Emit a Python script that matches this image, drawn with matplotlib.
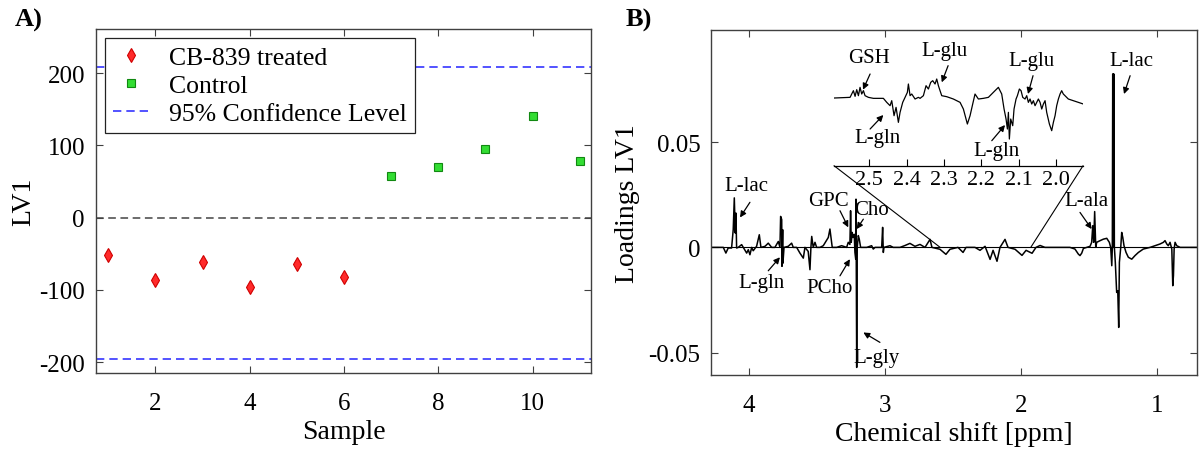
import matplotlib.pyplot as plt
from matplotlib.patches import ConnectionPatch

plt.rcParams['font.family'] = ['Liberation Serif', 'DejaVu Serif']
plt.rcParams['axes.unicode_minus'] = False

# ---- panel A data: PLS-DA scores ----
treated_x = [1, 2, 3, 4, 5, 6]
treated_lv1 = [-51.5, -86, -62, -96, -64, -82]
control_x = [7, 8, 9, 10, 11]
control_lv1 = [57, 70, 95, 140, 78]
cl_upper = 209
cl_lower = -195.5

# ---- panel B data: loadings spectrum (ppm, loading) ----
ppm = [4.277, 4.191, 4.172, 4.155, 4.130, 4.118, 4.110, 4.103, 4.098, 4.093,
       4.081, 4.056, 4.044, 4.019, 4.007, 3.995, 3.982, 3.971, 3.946, 3.926,
       3.914, 3.884, 3.860, 3.835, 3.811, 3.786, 3.774, 3.769, 3.761, 3.759,
       3.754, 3.752, 3.744, 3.713, 3.688, 3.676, 3.651, 3.627, 3.602, 3.590,
       3.566, 3.553, 3.546, 3.540, 3.529, 3.516, 3.504, 3.479, 3.455, 3.418,
       3.406, 3.398, 3.389, 3.356, 3.320, 3.283, 3.271, 3.259, 3.254, 3.249,
       3.242, 3.236, 3.227, 3.222, 3.216, 3.214, 3.209, 3.205, 3.197, 3.190,
       3.180, 3.135, 3.099, 3.087, 3.074, 3.025, 3.018, 3.013, 3.008, 2.964,
       2.940, 2.890, 2.853, 2.817, 2.780, 2.743, 2.706, 2.669, 2.655, 2.596,
       2.552, 2.522, 2.463, 2.426, 2.404, 2.338, 2.301, 2.264, 2.227, 2.205,
       2.176, 2.154, 2.117, 2.095, 2.043, 1.992, 1.962, 1.918, 1.889, 1.859,
       1.823, 1.786, 1.639, 1.602, 1.577, 1.565, 1.552, 1.540, 1.515, 1.491,
       1.479, 1.471, 1.464, 1.457, 1.449, 1.442, 1.417, 1.393, 1.368, 1.349,
       1.339, 1.331, 1.327, 1.324, 1.322, 1.320, 1.317, 1.315, 1.312, 1.305,
       1.295, 1.287, 1.280, 1.275, 1.265, 1.258, 1.250, 1.241, 1.226, 1.209,
       1.184, 1.160, 1.135, 1.099, 1.049, 1.012, 0.976, 0.951, 0.939, 0.926,
       0.915, 0.902, 0.889, 0.882, 0.877, 0.872, 0.865, 0.853, 0.828, 0.688]
loading = [0, 0, -0.0027, -0.0003, -0.0003, 0.0084, 0.0235, 0.0068, 0.0163, -0.0003,
           0, 0.0013, 0, -0.0027, -0.0011, -0.0035, 0, -0.0016, 0.0005, 0.0060,
           0, 0.0005, 0.0020, 0, 0, 0.0028, 0, 0.0147, 0.0132, -0.0090,
           0.0084, -0.0075, 0, 0.0005, 0.0020, 0, 0, -0.0027, -0.0051, 0,
           -0.0019, -0.0106, 0, 0.0052, 0, 0.0024, 0, 0, 0.0008, 0.0047,
           0.0087, 0.0047, 0, 0, 0.0008, 0, 0.0024, 0.0014, 0.0174, 0.0024,
           0.0071, 0.0047, 0.0062, -0.0024, -0.0056, 0.0229, -0.0570, 0, 0.0056, 0.0039,
           0, 0, 0.0008, -0.0008, 0, 0, 0.0095, -0.0024, 0, 0.0008,
           0, 0, 0.0009, 0.0019, 0.0005, 0.0014, 0, 0.0038, 0, -0.0009,
           -0.0033, -0.0009, 0, -0.0024, 0, 0, -0.0014, 0.0005, -0.0057, -0.0014,
           -0.0066, 0, 0.0038, 0, -0.0009, -0.0038, -0.0014, -0.0028, 0, 0.0009,
           0, 0, 0, -0.0008, -0.0032, -0.0039, -0.0027, -0.0005, 0, 0.0005,
           0.0024, 0.0103, 0.0024, 0.0170, 0, 0.0024, 0.0032, 0.0039, 0.0043, 0.0024,
           0, -0.0087, 0, 0.0823, 0, 0.0823, 0, 0.0823, 0, -0.0071,
           -0.0214, -0.0206, -0.0380, -0.0071, 0, 0.0071, 0.0047, 0.0008, -0.0024, -0.0047,
           -0.0056, -0.0039, -0.0024, -0.0008, 0, 0.0008, 0.0016, 0.0024, 0.0032, 0.0016,
           0.0008, 0.0024, -0.0008, -0.0182, -0.0134, -0.0008, 0.0024, 0.0008, 0, 0]

# ---- inset: 2.6 - 1.93 ppm enlarged (relative units) ----
inset_ppm = [2.5945, 2.5516, 2.5472, 2.5427, 2.5382, 2.5338, 2.5293, 2.5249, 2.5204, 2.5159,
             2.5115, 2.5025, 2.4891, 2.4624, 2.4534, 2.4445, 2.4400, 2.4338, 2.4284, 2.4222,
             2.4177, 2.4106, 2.4043, 2.3981, 2.3954, 2.3909, 2.3864, 2.3775, 2.3686, 2.3641,
             2.3552, 2.3481, 2.3418, 2.3356, 2.3302, 2.3240, 2.3195, 2.3150, 2.3106, 2.3061,
             2.2927, 2.2749, 2.2570, 2.2481, 2.2374, 2.2302, 2.2231, 2.2169, 2.2079, 2.1945,
             2.1811, 2.1722, 2.1633, 2.1543, 2.1499, 2.1454, 2.1391, 2.1338, 2.1302, 2.1275,
             2.1249, 2.1213, 2.1159, 2.1124, 2.1070, 2.1034, 2.0981, 2.0936, 2.0891, 2.0829,
             2.0784, 2.0740, 2.0695, 2.0650, 2.0606, 2.0561, 2.0516, 2.0472, 2.0427, 2.0382,
             2.0338, 2.0293, 2.0249, 2.0177, 2.0115, 2.0070, 2.0025, 1.9981, 1.9936, 1.9891,
             1.9848, 1.9804, 1.9759, 1.9670, 1.9536, 1.9402, 1.9268]
inset_val = [0, 0.02, 0.12, 0.22, 0.05, 0.25, 0.07, 0.32, 0.12, 0.22,
             0.07, 0.02, -0.01, -0.01, -0.13, -0.23, -0.08, -0.53, -0.28, -0.73,
             -0.43, -0.13, 0.02, 0.17, 0.42, 0.07, 0.12, -0.03, 0.02, -0.01,
             0.07, 0.37, 0.27, 0.47, 0.52, 0.42, 0.57, 0.37, 0.22, 0.07,
             0.04, -0.03, -0.13, -0.33, -0.78, -0.53, -0.18, 0.12, -0.03, -0.01,
             0.02, 0.12, 0.22, 0.32, 0.22, 0.12, -0.33, -0.63, -0.93, -0.43,
             -1.23, -0.63, -0.83, -0.33, -0.03, 0.07, 0.27, 0.22, 0.02, -0.03,
             0.07, -0.13, -0.03, -0.18, -0.08, -0.23, -0.13, -0.03, -0.13, -0.33,
             -0.18, -0.08, -0.43, -0.78, -0.98, -0.73, -0.53, -0.23, -0.03, 0.12,
             0.22, 0.12, 0.07, -0.03, -0.08, -0.13, -0.18]

# labels: (text, text pos, arrow tail, arrow head)
main_labels = [
    ('L-lac', (4.019, 0.0292), (3.995, 0.0214), (4.068, 0.0142)),
    ('L-gln', (3.909, -0.0166), (3.860, -0.0111), (3.774, -0.0047)),
    ('GPC', (3.418, 0.0221), (3.332, 0.0174), (3.271, 0.0095)),
    ('Cho', (3.099, 0.0182), (3.160, 0.0134), (3.209, 0.0087)),
    ('PCho', (3.406, -0.0190), (3.332, -0.0135), (3.259, -0.0056)),
    ('L-gly', (3.062, -0.0522), (3.038, -0.0451), (3.160, -0.0404)),
    ('L-ala', (1.515, 0.0221), (1.565, 0.0166), (1.479, 0.0087)),
    ('L-lac', (1.184, 0.0886), (1.196, 0.0815), (1.241, 0.0728)),
]
inset_labels = [
    ('GSH', (2.5008, 1.23), (2.498, 0.72), (2.517, 0.25)),
    ('L-glu', (2.300, 1.42), (2.289, 0.97), (2.306, 0.47)),
    ('L-gln', (2.479, -1.17), (2.498, -0.93), (2.4625, -0.51)),
    ('L-glu', (2.065, 1.12), (2.0615, 0.67), (2.075, 0.12)),
    ('L-gln', (2.159, -1.58), (2.172, -1.28), (2.1365, -0.81)),
]

frame_color = '#404040'


def style_axes(ax):
    for s in ax.spines.values():
        s.set_color(frame_color)
        s.set_linewidth(1.0)
    ax.tick_params(direction='in', top=True, right=True, length=5,
                   width=0.8, color=frame_color, labelsize=18, pad=8)
    ax.tick_params(axis='x', pad=14)


def put_labels(ax, labels, fs):
    for txt, pos, tail, head in labels:
        ax.text(pos[0], pos[1], txt, ha='center', va='center', fontsize=fs)
        ax.annotate('', xy=head, xytext=tail,
                    arrowprops=dict(arrowstyle='-|>', color='black', lw=0.9,
                                    mutation_scale=9, shrinkA=0, shrinkB=0))


fig = plt.figure(figsize=(11.99, 4.52), dpi=100)

# ---------------- A) ----------------
axA = fig.add_axes([0.0801, 0.1726, 0.4128, 0.761])
axA.axhline(0, color='#444444', ls='--', lw=1.1, dashes=(5, 3))
axA.plot(treated_x, treated_lv1, ls='none', marker='d', ms=7.5,
         mfc='#ff2a2a', mec='#d00000', mew=0.8, label='CB-839 treated')
axA.plot(control_x, control_lv1, ls='none', marker='s', ms=5.5,
         mfc='#33dd33', mec='#118811', mew=0.8, label='Control')
axA.axhline(cl_upper, color='#3535ff', ls='--', lw=1.2, dashes=(5, 3),
            label='95% Confidence Level')
axA.axhline(cl_lower, color='#3535ff', ls='--', lw=1.2, dashes=(5, 3))
axA.set_xlim(0.74, 11.24)
axA.set_ylim(-215, 261)
axA.set_xticks([2, 4, 6, 8, 10])
axA.set_yticks([-200, -100, 0, 100, 200])
style_axes(axA)
axA.set_xlabel('Sample', fontsize=20, labelpad=3)
axA.set_ylabel('LV1', fontsize=20, labelpad=2)
leg = axA.legend(loc='upper left', fontsize=18.5, fancybox=False, framealpha=1,
                 edgecolor='#222222', borderaxespad=0.35, handlelength=1.4,
                 handletextpad=0.8, labelspacing=0.2, borderpad=0.3)
leg.get_frame().set_linewidth(0.9)

# ---------------- B) ----------------
axB = fig.add_axes([0.5934, 0.1681, 0.405, 0.7633])
axB.axhline(0, color='black', lw=0.8)
axB.plot(ppm, loading, color='black', lw=1.1)
axB.set_xlim(4.278, 0.703)
axB.set_ylim(-0.0606, 0.1032)
axB.set_xticks([4, 3, 2, 1])
axB.set_yticks([-0.05, 0, 0.05])
axB.set_yticklabels(['-0.05', '0', '0.05'])
style_axes(axB)
axB.set_xlabel('Chemical shift [ppm]', fontsize=20, labelpad=3)
axB.set_ylabel('Loadings LV1', fontsize=20, labelpad=6)
put_labels(axB, main_labels, 15)

# inset
axI = fig.add_axes([0.6956, 0.6312, 0.2077, 0.2803])
axI.patch.set_alpha(0)
axI.plot(inset_ppm, inset_val, color='black', lw=0.9)
axI.set_xlim(2.5946, 1.9275)
axI.set_ylim(-2.03, 1.77)
for side in ['top', 'left', 'right']:
    axI.spines[side].set_visible(False)
axI.spines['bottom'].set_linewidth(0.9)
axI.set_yticks([])
axI.set_xticks([2.5, 2.4, 2.3, 2.2, 2.1, 2.0])
axI.set_xticklabels(['2.5', '2.4', '2.3', '2.2', '2.1', '2.0'])
axI.tick_params(axis='x', direction='in', length=5, width=0.8,
                labelsize=16, pad=3)
put_labels(axI, inset_labels, 15)

# zoom funnel lines from the inset axis down to the baseline
for xe in axI.get_xlim():
    con = ConnectionPatch(xyA=(xe, -2.03), coordsA=axI.transData,
                          xyB=(xe, 0), coordsB=axB.transData,
                          color='black', lw=0.8)
    fig.add_artist(con)

fig.text(0.012, 0.955, 'A)', fontsize=19, fontweight='bold', va='center')
fig.text(0.522, 0.955, 'B)', fontsize=19, fontweight='bold', va='center')

fig.savefig('out.png', dpi=100)
